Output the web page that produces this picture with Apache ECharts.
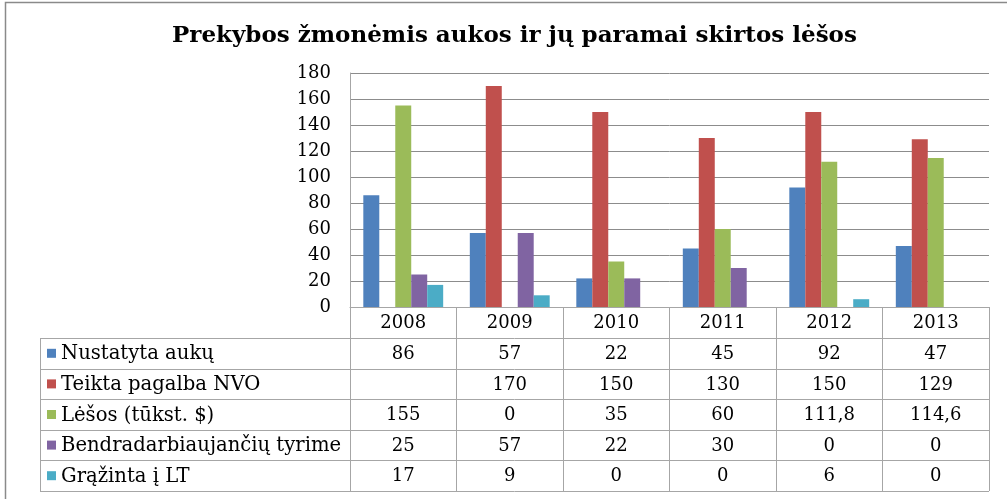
<!DOCTYPE html>
<html>
<head>
<meta charset="utf-8">
<script src="https://cdn.jsdelivr.net/npm/echarts@6/dist/echarts.min.js"></script>
<style>
html,body{margin:0;padding:0;background:#fff;}
#c{width:1007px;height:499px;}
</style>
</head>
<body>
<div id="c"></div>
<script>
var titleText = 'Prekybos žmonėmis aukos ir jų paramai skirtos lėšos';
var years = ['2008', '2009', '2010', '2011', '2012', '2013'];
var seriesNames = ['Nustatyta aukų', 'Teikta pagalba NVO', 'Lėšos (tūkst. $)', 'Bendradarbiaujančių tyrime', 'Grąžinta į LT'];
var nustatyta = [86, 57, 22, 45, 92, 47];
var teikta = [null, 170, 150, 130, 150, 129];
var lesos = [155, 0, 35, 60, 111.8, 114.6];
var bendradarb = [25, 57, 22, 30, 0, 0];
var grazinta = [17, 9, 0, 0, 6, 0];
var yTicks = [0, 20, 40, 60, 80, 100, 120, 140, 160, 180];

var allSeries = [nustatyta, teikta, lesos, bendradarb, grazinta];
var colors = ['#4F81BD', '#C0504D', '#9BBB59', '#8064A2', '#4BACC6'];
var FONT = 'DejaVu Serif';
var gridColor = '#8c8c8c';
var tableColor = '#a6a6a6';

var chart = echarts.init(document.getElementById('c'), null, {renderer: 'canvas'});

var GRID = {left: 350, right: 18, top: 73, bottom: 192};
var option = {
  animation: false,
  backgroundColor: '#fff',
  title: {
    text: titleText, left: 167, top: 20,
    textStyle: {fontFamily: FONT, fontWeight: 'bold', fontSize: 23, color: '#000'}
  },
  grid: GRID,
  xAxis: {
    type: 'category', data: years,
    axisLine: {show: true, lineStyle: {color: tableColor, width: 1}},
    axisTick: {show: true, length: 184, lineStyle: {color: tableColor, width: 1}},
    axisLabel: {fontFamily: FONT, fontSize: 18, color: '#000', margin: 7}
  },
  yAxis: {
    type: 'value', min: yTicks[0], max: yTicks[yTicks.length - 1], interval: yTicks[1] - yTicks[0],
    axisLine: {show: true, lineStyle: {color: tableColor, width: 1}},
    axisTick: {show: false},
    splitLine: {lineStyle: {color: gridColor, width: 1}},
    axisLabel: {fontFamily: FONT, fontSize: 18, color: '#000', margin: 19}
  },
  series: allSeries.map(function (d, i) {
    return {
      name: seriesNames[i], type: 'bar', data: d,
      barGap: '0%', barCategoryGap: '25%',
      itemStyle: {color: colors[i], borderWidth: 0}
    };
  })
};
chart.setOption(option);

function fmt(v) {
  if (v === null || v === undefined) return '';
  return String(v).replace('.', ',');
}

var g = [];
var tableTop = chart.convertToPixel({yAxisIndex: 0}, 0);
var plotRight = 1007 - GRID.right;
var tableLeft = 40;
var rowH = 30.6;
var headerH = 31;
var firstRowTop = tableTop + headerH;
var nRows = seriesNames.length;
var tableBottom = firstRowTop + nRows * rowH;

// outer chart border
g.push({type: 'rect', shape: {x: 5.5, y: 2.5, width: 1020, height: 520}, style: {fill: null, stroke: '#8a8a8a', lineWidth: 1.5}, z: 100});

for (var r = 0; r <= nRows; r++) {
  var y = Math.round(firstRowTop + r * rowH) + 0.5;
  g.push({type: 'line', shape: {x1: tableLeft, y1: y, x2: plotRight, y2: y}, style: {stroke: tableColor, lineWidth: 1}, z: 50});
}
g.push({type: 'line', shape: {x1: tableLeft + 0.5, y1: Math.round(firstRowTop) + 0.5, x2: tableLeft + 0.5, y2: Math.round(tableBottom) + 0.5}, style: {stroke: tableColor, lineWidth: 1}, z: 50});

for (var s = 0; s < nRows; s++) {
  var cy = firstRowTop + (s + 0.5) * rowH;
  g.push({type: 'rect', shape: {x: 47, y: cy - 4.5, width: 9, height: 9}, style: {fill: colors[s]}, z: 51});
  g.push({type: 'text', style: {text: seriesNames[s], x: 61, y: cy + 1, textVerticalAlign: 'middle', textAlign: 'left', font: '19.6px "' + FONT + '"', fill: '#000'}, z: 51});
  for (var c = 0; c < years.length; c++) {
    var cx = chart.convertToPixel({xAxisIndex: 0}, years[c]);
    g.push({type: 'text', style: {text: fmt(allSeries[s][c]), x: cx, y: cy + 1, textVerticalAlign: 'middle', textAlign: 'center', font: '18px "' + FONT + '"', fill: '#000'}, z: 51});
  }
}
chart.setOption({graphic: g});
</script>
</body>
</html>
